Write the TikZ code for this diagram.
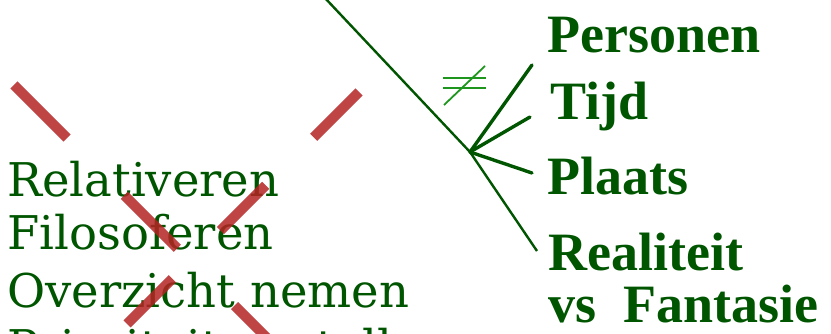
\documentclass[tikz,border=0pt]{standalone}
\usepackage{fontspec,xcolor}
\newfontfamily\listfont{DejaVu Serif}
\newfontfamily\topicfont{Liberation Serif}
\definecolor{dkgreen}{RGB}{0,85,0}
\definecolor{ltgreen}{RGB}{30,150,30}
\definecolor{crossred}{RGB}{180,35,35}
\usetikzlibrary{positioning}

\begin{document}
\begin{tikzpicture}[x=1pt,y=-1pt,
  item/.style={anchor=base west,inner sep=0pt,text=dkgreen,font=\listfont\fontsize{46.5}{50}\selectfont},
  topic/.style={anchor=base west,inner sep=0pt,text=dkgreen,font=\topicfont\bfseries\fontsize{54}{58}\selectfont},
  branch/.style={dkgreen,line width=3.4pt,line cap=round},
  cross/.style={crossred,opacity=0.85,line width=10pt}]
  \useasboundingbox (0,0) rectangle (831,334);
  % Left: crossed-out list
  \node[item] (rel) at (7,197) {Relativeren};
  \node[item] (fil) at (7,250) {Filosoferen};
  \node[item] (ovz) at (7,308) {Overzicht nemen};
  \node[item] (pri) at (7,363) {Prioriteiten stellen};
  \draw[cross,dash pattern=on 75pt off 81pt] (14,85) -- (320,391);
  \draw[cross,dash pattern=on 64pt off 68pt] (359,92) -- (80,371);
  % Right: topics
  \node[topic] (pers) at (547,53) {Personen};
  \node[topic] (tijd) at (550,120) {Tijd};
  \node[topic] (plts) at (547,195) {Plaats};
  \node[topic] (real) at (548,270) {Realiteit};
  \node[topic] (fant) at (548,322) {vs~~Fantasie};
  % Dividing line and branches
  \coordinate (top) at (325,-2);
  \coordinate (hub) at (470,152);
  \coordinate (bot) at (537,251);
  \coordinate (e1) at (532,65);
  \coordinate (e2) at (530,117);
  \coordinate (e3) at (532,173);
  \draw[dkgreen,line width=2.4pt,line join=round] (top) -- (hub) -- (bot);
  \draw[branch] (hub) -- (e1);
  \draw[branch] (hub) -- (e2);
  \draw[branch] (hub) -- (e3);
  % not-equal sign
  \draw[ltgreen,line width=2.2pt] (443,78) -- (486,78);
  \draw[ltgreen,line width=2.2pt] (443,88) -- (486,88);
  \draw[ltgreen,line width=1.8pt] (444,105) -- (485,66);
\end{tikzpicture}
\end{document}
